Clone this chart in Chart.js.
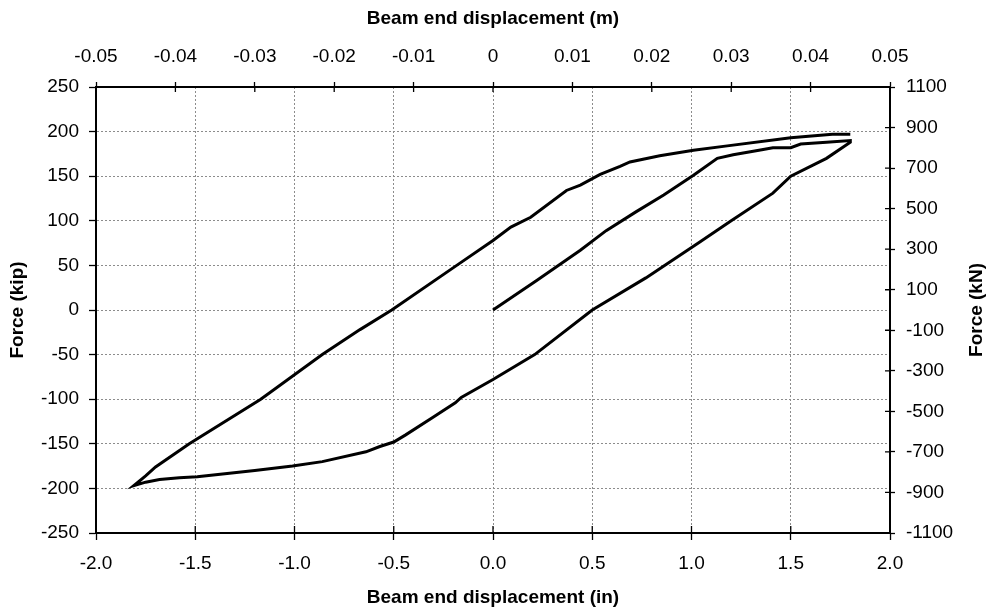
<!DOCTYPE html>
<html>
<head>
<meta charset="utf-8">
<script src="https://cdn.jsdelivr.net/npm/chart.js@4.4.0/dist/chart.umd.min.js"></script>
<style>
  html, body { margin: 0; padding: 0; background: #fff; }
  #wrap { width: 993px; height: 616px; }
</style>
</head>
<body>
<div id="wrap"><canvas id="chart" width="993" height="616"></canvas></div>
<script>
// load to +1.8 in, unload to -1.8 in, reload to +1.8 in (one continuous path)
const dispIn = [
  0, 0.22, 0.44, 0.57, 0.72, 0.86, 1.01, 1.13, 1.21, 1.34, 1.41, 1.50, 1.55, 1.68, 1.80,
  1.80, 1.68, 1.50, 1.41, 1.20, 1.04, 0.77, 0.50, 0.21, 0.00, -0.16, -0.19, -0.30, -0.44, -0.50, -0.57, -0.64, -0.86, -1.01, -1.20, -1.49, -1.58, -1.68, -1.75, -1.81,
  -1.75, -1.70, -1.53, -1.17, -0.86, -0.67, -0.51, -0.17, 0.00, 0.09, 0.19, 0.37, 0.44, 0.54, 0.64, 0.69, 0.84, 1.01, 1.18, 1.50, 1.71, 1.80
];
const forceKip = [
  0, 33, 67, 89, 110, 129, 151, 170, 174, 179, 182, 182, 186, 188, 190,
  188, 170, 150, 131, 100, 76, 36, 0, -50, -78, -98, -104, -120, -140, -148, -153, -159, -170, -175, -180, -187, -188, -190, -193, -197,
  -186, -176, -150, -100, -50, -22, 0, 52, 78, 93, 104, 134, 140, 152, 161, 166, 173, 179, 184, 193, 197, 197
];

const inTicks = [-2.0, -1.5, -1.0, -0.5, 0, 0.5, 1.0, 1.5, 2.0];
const mTicks = [-0.05, -0.04, -0.03, -0.02, -0.01, 0, 0.01, 0.02, 0.03, 0.04, 0.05];
const kipTicks = [-250, -200, -150, -100, -50, 0, 50, 100, 150, 200, 250];
const kNTicks = [-1100, -900, -700, -500, -300, -100, 100, 300, 500, 700, 900, 1100];

const FONT = '"Liberation Sans", Arial, sans-serif';
const tickFont = { family: FONT, size: 19 };
const titleFont = { family: FONT, size: 19, weight: 'bold' };

const points = dispIn.map((x, i) => ({ x: x, y: forceKip[i] }));

const setTicks = (list) => (axis) => { axis.ticks = list.map(v => ({ value: v })); };

// tick marks that cross the axis line (inner half), plus the right title
const extras = {
  id: 'extras',
  afterDraw(chart) {
    const { ctx, chartArea: a, scales } = chart;
    ctx.save();
    ctx.strokeStyle = '#000';
    ctx.lineWidth = 1.3;
    ctx.beginPath();
    scales.x.ticks.forEach(t => {
      const px = scales.x.getPixelForValue(t.value);
      ctx.moveTo(px, a.bottom); ctx.lineTo(px, a.bottom - 7);
    });
    scales.x2.ticks.forEach(t => {
      const px = scales.x2.getPixelForValue(t.value);
      ctx.moveTo(px, a.top); ctx.lineTo(px, a.top + 5);
    });
    scales.y2.ticks.forEach(t => {
      const py = scales.y2.getPixelForValue(t.value);
      ctx.moveTo(a.right, py); ctx.lineTo(a.right - 5, py);
    });
    ctx.stroke();

    ctx.translate(977, (a.top + a.bottom) / 2);
    ctx.rotate(-Math.PI / 2);
    ctx.font = 'bold 19px ' + FONT;
    ctx.fillStyle = '#000';
    ctx.textAlign = 'center';
    ctx.textBaseline = 'middle';
    ctx.fillText('Force (kN)', 0, 0);
    ctx.restore();
  }
};

const gridOpts = { color: '#8c8c8c', lineWidth: 1, tickColor: '#000', tickWidth: 1.3 };

new Chart(document.getElementById('chart'), {
  type: 'scatter',
  data: {
    datasets: [{
      data: points,
      showLine: true,
      borderColor: '#000',
      borderWidth: 3,
      pointRadius: 0,
      tension: 0,
      xAxisID: 'x',
      yAxisID: 'y'
    }]
  },
  options: {
    responsive: false,
    animation: false,
    layout: { padding: 0 },
    plugins: { legend: { display: false }, tooltip: { enabled: false } },
    scales: {
      x: {
        type: 'linear', position: 'bottom', min: -2, max: 2,
        afterBuildTicks: setTicks(inTicks),
        afterFit: (s) => { s.height = 83; },
        ticks: { callback: v => v.toFixed(1), padding: 12, color: '#000', font: tickFont, autoSkip: false, maxRotation: 0 },
        grid: { ...gridOpts, tickLength: 7 },
        border: { color: '#000', width: 2, dash: [2, 2] },
        title: { display: true, text: 'Beam end displacement (in)', color: '#000', font: titleFont, padding: { top: 0, bottom: 7 } }
      },
      x2: {
        type: 'linear', position: 'top', min: -0.05, max: 0.05,
        afterBuildTicks: setTicks(mTicks),
        afterFit: (s) => { s.height = 87; },
        ticks: { callback: v => (v === 0 ? '0' : v.toFixed(2)), padding: 14, color: '#000', font: tickFont, autoSkip: false, maxRotation: 0 },
        grid: { ...gridOpts, drawOnChartArea: false, tickLength: 5 },
        border: { color: '#000', width: 2 },
        title: { display: true, text: 'Beam end displacement (m)', color: '#000', font: titleFont, padding: { top: 7, bottom: 0 } }
      },
      y: {
        type: 'linear', position: 'left', min: -250, max: 250,
        afterBuildTicks: setTicks(kipTicks),
        afterFit: (s) => { s.width = 96; },
        ticks: { callback: v => String(v), padding: 10, color: '#000', font: tickFont, autoSkip: false },
        grid: { ...gridOpts, tickLength: 7 },
        border: { color: '#000', width: 2, dash: [2, 2] },
        title: { display: true, text: 'Force (kip)', color: '#000', font: titleFont, padding: { top: 6, bottom: 0 } }
      },
      y2: {
        type: 'linear', position: 'right', min: -1100, max: 1100,
        afterBuildTicks: setTicks(kNTicks),
        afterFit: (s) => { s.width = 103; },
        ticks: { callback: v => String(v), padding: 11, color: '#000', font: tickFont, autoSkip: false },
        grid: { ...gridOpts, drawOnChartArea: false, tickLength: 5 },
        border: { color: '#000', width: 2 }
      }
    }
  },
  plugins: [extras]
});
</script>
</body>
</html>
